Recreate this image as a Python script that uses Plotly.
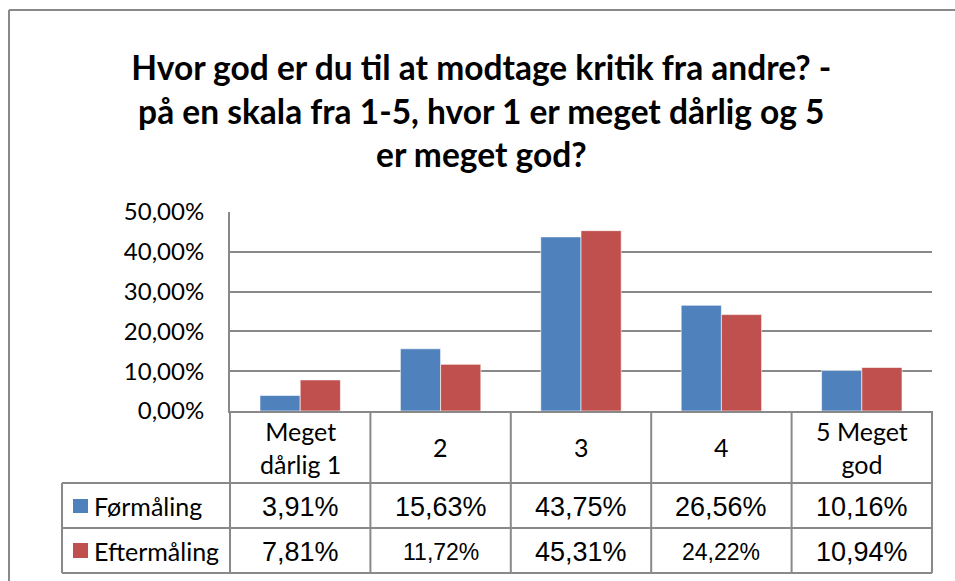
import plotly.graph_objects as go

# ---- data ----
categories = ["Meget<br>dårlig 1", "2", "3", "4", "5 Meget<br>god"]
series_names = ["Førmåling", "Eftermåling"]
formaaling = [0.0391, 0.1563, 0.4375, 0.2656, 0.1016]
eftermaaling = [0.0781, 0.1172, 0.4531, 0.2422, 0.1094]
y_ticks = [0.0, 0.1, 0.2, 0.3, 0.4, 0.5]
title_text = ("Hvor god er du til at modtage kritik fra andre? -<br>"
              "på en skala fra 1-5, hvor 1 er meget dårlig og 5<br>"
              "er meget god?")

# ---- styles ----
BLUE = "#4F81BD"
RED = "#C0504D"
GRID = "#898989"
W, H = 955, 581
L, R, T, B = 230, 932, 212, 411  # plot area in pixels
calibri = "Lato, Carlito, Calibri, sans-serif"
arial = "Liberation Sans, Arial, sans-serif"
eft_sizes = [27, 23, 27, 23, 27]   # per-cell font sizes in reference


def px(xp):
    return (xp - L) / (R - L)


def py(yp):
    return (B - yp) / (B - T)


def pct(v):
    return f"{v*100:.2f}".replace(".", ",") + "%"


x = list(range(len(categories)))
fig = go.Figure()
for name, vals, col in [(series_names[0], formaaling, BLUE),
                        (series_names[1], eftermaaling, RED)]:
    fig.add_trace(go.Bar(x=x, y=vals, name=name, marker_color=col,
                         marker_line=dict(color="rgba(255,255,255,0.6)", width=1),
                         showlegend=False))

shapes = []
line = dict(color=GRID, width=2)
n = len(categories)
# outer chart border (left and top)
shapes.append(dict(type="line", xref="paper", yref="paper", x0=px(9), x1=px(W + 5),
                   y0=py(10), y1=py(10), line=line))
shapes.append(dict(type="line", xref="paper", yref="paper", x0=px(9), x1=px(9),
                   y0=py(10), y1=py(H + 5), line=line))
# table horizontal lines
for yy in [483, 528, 573]:
    shapes.append(dict(type="line", xref="paper", yref="paper", x0=px(62), x1=1,
                       y0=py(yy), y1=py(yy), line=line))
# table vertical lines at category boundaries
for k in range(n + 1):
    shapes.append(dict(type="line", xref="paper", yref="paper", x0=k / n, x1=k / n,
                       y0=0, y1=py(573), line=line))
# legend column left edge
shapes.append(dict(type="line", xref="paper", yref="paper", x0=px(62), x1=px(62),
                   y0=py(483), y1=py(573), line=line))
# legend swatches
for (y0, y1), col in [((499, 513), BLUE), ((543, 558), RED)]:
    shapes.append(dict(type="rect", xref="paper", yref="paper", x0=px(73), x1=px(88),
                       y0=py(y0), y1=py(y1), fillcolor=col, line=dict(width=0)))

annotations = []
# category headers
for i, c in enumerate(categories):
    annotations.append(dict(x=i, xref="x", y=py(447), yref="paper", text=c,
                            showarrow=False, xanchor="center", yanchor="middle",
                            font=dict(family=calibri, size=25, color="#000")))
# value cells
for i in range(n):
    annotations.append(dict(x=i, xref="x", y=py(507), yref="paper", text=pct(formaaling[i]),
                            showarrow=False, xanchor="center", yanchor="middle",
                            font=dict(family=arial, size=27, color="#000")))
    annotations.append(dict(x=i, xref="x", y=py(552), yref="paper", text=pct(eftermaaling[i]),
                            showarrow=False, xanchor="center", yanchor="middle",
                            font=dict(family=arial, size=eft_sizes[i], color="#000")))
# legend labels
for name, yc in zip(series_names, [506, 551]):
    annotations.append(dict(x=px(92), xref="paper", y=py(yc), yref="paper", text=name,
                            showarrow=False, xanchor="left", yanchor="middle",
                            font=dict(family=calibri, size=25, color="#000")))

fig.update_layout(
    width=W, height=H,
    margin=dict(l=L, r=W - R, t=T, b=H - B, autoexpand=False),
    paper_bgcolor="white", plot_bgcolor="white",
    separators=",.",
    barmode="group", bargap=0.427, bargroupgap=0,
    title=dict(text=title_text, x=0.504, xref="container", xanchor="center",
               y=1 - 80 / H, yanchor="middle",
               font=dict(family=calibri, size=33.5, color="#000", weight="bold")),
    xaxis=dict(range=[-0.5, n - 0.5], showticklabels=False, showgrid=False,
               zeroline=False, showline=True, linecolor=GRID, linewidth=2,
               ticks="", fixedrange=True),
    yaxis=dict(range=[0, 0.5], tickvals=y_ticks, tickformat=".2%",
               showgrid=True, gridcolor=GRID, gridwidth=2,
               showline=True, linecolor=GRID, linewidth=2, zeroline=False,
               ticks="", ticklabelstandoff=19, automargin=False,
               tickfont=dict(family=calibri, size=24, color="#000")),
    shapes=shapes, annotations=annotations,
)
fig.write_html("out.html", config={"displayModeBar": False},
               post_script="document.body.style.margin='0px';")
